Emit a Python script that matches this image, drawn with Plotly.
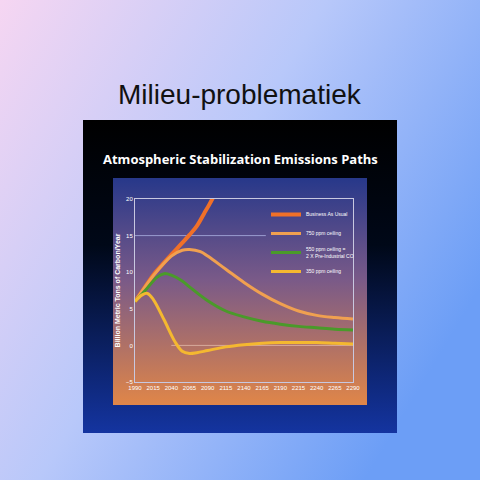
import base64

import plotly.graph_objects as go

# values
bau_year = [1990, 2000, 2015, 2030, 2040, 2055, 2065, 2075, 2085, 2092, 2098]
bau_val = [6.0, 7.4, 9.6, 11.3, 12.4, 14.0, 15.1, 16.3, 18.0, 19.2, 20.3]

c750_year = [1990, 2015, 2040, 2055, 2065, 2080, 2090, 2115, 2140, 2165, 2190, 2215, 2240, 2265, 2290]
c750_val = [6.0, 9.5, 12.2, 13.0, 13.1, 12.8, 12.2, 10.4, 8.6, 7.0, 5.7, 4.7, 4.1, 3.8, 3.6]

c550_year = [1990, 2005, 2020, 2030, 2040, 2055, 2065, 2090, 2115, 2140, 2165, 2190, 2215, 2240, 2265, 2290]
c550_val = [6.0, 7.6, 9.3, 9.8, 9.6, 8.8, 8.0, 6.1, 4.7, 3.9, 3.3, 2.9, 2.6, 2.4, 2.2, 2.1]

c350_year = [1990, 2000, 2007, 2015, 2030, 2045, 2055, 2065, 2075, 2090, 2115, 2140, 2165, 2190, 2215, 2240, 2265, 2290]
c350_val = [6.0, 6.9, 7.1, 6.3, 3.5, 0.5, -0.8, -1.1, -1.0, -0.7, -0.2, 0.1, 0.3, 0.4, 0.4, 0.4, 0.3, 0.2]

x_ticks = list(range(1990, 2291, 25))
y_ticks = [-5, 0, 5, 10, 15, 20]


def grad_img(stops, x1, y1, x2, y2):
    s = "".join(f'<stop offset="{o}" stop-color="{c}"/>' for o, c in stops)
    svg = (f'<svg xmlns="http://www.w3.org/2000/svg" width="100" height="100" viewBox="0 0 100 100" preserveAspectRatio="none">'
           f'<defs><linearGradient id="g" x1="{x1}" y1="{y1}" x2="{x2}" y2="{y2}">{s}</linearGradient></defs>'
           f'<rect width="100" height="100" fill="url(#g)"/></svg>')
    return "data:image/svg+xml;base64," + base64.b64encode(svg.encode()).decode()


def px(x):
    return x / 480


def py(y):
    return 1 - y / 480


fig = go.Figure()
lines = [
    ("Business As Usual", bau_year, bau_val, "#f07028", 4),
    ("750 ppm ceiling", c750_year, c750_val, "#f0a050", 3),
    ("550 ppm ceiling =<br>2 X Pre-Industrial CO", c550_year, c550_val, "#4a9a2a", 3),
    ("350 ppm ceiling", c350_year, c350_val, "#f4b830", 3),
]
for name, xs, ys, col, w in lines:
    fig.add_trace(go.Scatter(x=xs, y=ys, name=name, mode="lines",
                             line=dict(color=col, width=w, shape="spline")))

fig.add_shape(type="line", xref="x", yref="y", x0=1990, x1=2170, y0=15, y1=15,
              line=dict(color="rgba(200,210,255,0.6)", width=1), layer="below")
fig.add_shape(type="line", xref="x", yref="y", x0=2040, x1=2290, y0=0, y1=0,
              line=dict(color="rgba(255,230,210,0.5)", width=1), layer="below")

images = [
    dict(source=grad_img([(0, "#f6d6f2"), (0.5, "#b8c8fa"), (1, "#6c9ef6")], 0, 0, 1, 0.6),
         x0=0, y0=1, sx=1, sy=1),
    dict(source=grad_img([(0, "#000000"), (0.4, "#000818"), (1, "#1434a0")], 0, 0, 0, 1),
         x0=px(83), y0=py(120), sx=px(397 - 83), sy=(433 - 120) / 480),
    dict(source=grad_img([(0, "#27388a"), (0.45, "#7a5a88"), (1, "#e08648")], 0, 0, 0, 1),
         x0=px(113), y0=py(178), sx=px(367 - 113), sy=(405 - 178) / 480),
]
fig.update_layout(images=[dict(source=i["source"], xref="paper", yref="paper", x=i["x0"], y=i["y0"],
                               sizex=i["sx"], sizey=i["sy"], sizing="stretch", layer="below",
                               xanchor="left", yanchor="top") for i in images])

fig.add_annotation(text="Milieu-problematiek", xref="paper", yref="paper", x=0.5, y=py(95),
                   yanchor="middle", showarrow=False,
                   font=dict(family="Liberation Sans", size=28, color="#111111"))
fig.add_annotation(text="<b>Atmospheric Stabilization Emissions Paths</b>", xref="paper", yref="paper",
                   x=0.5, y=py(159), yanchor="middle", showarrow=False,
                   font=dict(family="Open Sans", size=13, color="white"))

fig.update_layout(
    width=480, height=480,
    margin=dict(l=0, r=0, t=0, b=0, autoexpand=False),
    paper_bgcolor="white",
    plot_bgcolor="rgba(0,0,0,0)",
    showlegend=True,
    legend=dict(x=px(266), y=py(200), xanchor="left", yanchor="top", bgcolor="rgba(0,0,0,0)",
                font=dict(family="Liberation Sans", size=5, color="white"), tracegroupgap=0,
                itemwidth=30),
    xaxis=dict(domain=[px(135), px(353)], range=[1990, 2290], tickvals=x_ticks, automargin=False,
               showgrid=False, zeroline=False, showline=True, linecolor="#c8c8e0", mirror=True,
               tickfont=dict(family="Liberation Sans", size=6, color="white")),
    yaxis=dict(domain=[py(382), py(199)], range=[-5, 20], tickvals=y_ticks, automargin=False,
               showgrid=False, zeroline=False, showline=True, linecolor="#c8c8e0", mirror=True,
               tickfont=dict(family="Liberation Sans", size=6, color="white"),
               title=dict(text="<b>Billion Metric Tons of Carbon/Year</b>", standoff=4,
                          font=dict(family="Liberation Sans", size=7, color="white"))),
)

fig.write_html("out.html", config={"displayModeBar": False},
               post_script="document.body.style.margin='0';")
